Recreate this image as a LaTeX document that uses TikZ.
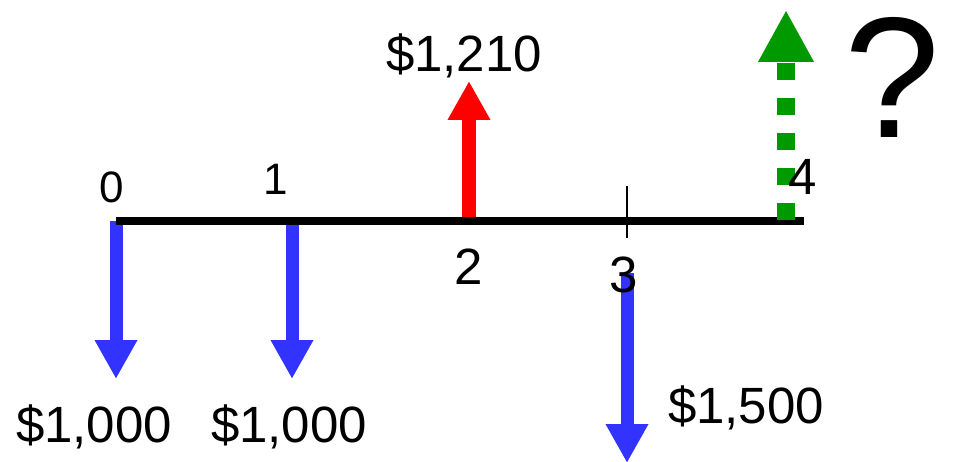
\documentclass[tikz,border=0pt]{standalone}
\usepackage{fontspec}
\setmainfont{Liberation Sans}
\usetikzlibrary{arrows.meta}

\definecolor{payblue}{RGB}{51,51,255}
\definecolor{recgreen}{RGB}{0,153,0}

\begin{document}
\begin{tikzpicture}[x=1pt,y=-1pt,
	every node/.style={inner sep=0pt,anchor=base},
	period/.style={font=\fontsize{44}{50}\selectfont},
	bigperiod/.style={font=\fontsize{51}{58}\selectfont},
	amount/.style={font=\fontsize{51}{58}\selectfont},
	flow/.style={line width=13pt,-{Triangle[width=40pt,length=39pt]}}]
	\useasboundingbox (0,0) rectangle (968,462);
	% end points of the cash flows
	\coordinate (s0) at (116,221); \coordinate (e0) at (116,379);
	\coordinate (s1) at (292,221); \coordinate (e1) at (292,379);
	\coordinate (s2) at (469,222); \coordinate (e2) at (469,81);
	\coordinate (s3) at (627,273); \coordinate (e3) at (627,463);
	\coordinate (s4) at (786,220); \coordinate (e4) at (786,10);
	\draw[flow,payblue] (s0) -- (e0);
	\draw[flow,payblue] (s1) -- (e1);
	\draw[flow,payblue] (s3) -- (e3);
	\draw[flow,red,line width=14pt] (s2) -- (e2);
	% time line
	\coordinate (lineL) at (116,221); \coordinate (lineR) at (804,221);
	\draw[line width=8pt] (lineL) -- (lineR);
	\coordinate (tickT) at (627,186); \coordinate (tickB) at (627,238);
	\draw[line width=2pt] (tickT) -- (tickB);
	\draw[recgreen,line width=18pt,dash pattern=on 17pt off 18pt,
		-{Triangle[width=52pt,length=52pt]}] (s4) -- (e4);
	% labels
	\node[period] (t0) at (112,203) {0};
	\node[period] (t1) at (276,195) {1};
	\node[bigperiod] (t2) at (469,284) {2};
	\node[bigperiod] (t3) at (624,292) {3};
	\node[bigperiod] (t4) at (803,195) {4};
	\node[amount] (pay0) at (94,442) {\$1,000};
	\node[amount] (pay1) at (289,442) {\$1,000};
	\node[amount] (rec2) at (464,72) {\$1,210};
	\node[amount] (pay3) at (746,423) {\$1,500};
	\node[font=\fontsize{172}{190}\selectfont] (fv) at (892,138) {?};
\end{tikzpicture}
\end{document}
